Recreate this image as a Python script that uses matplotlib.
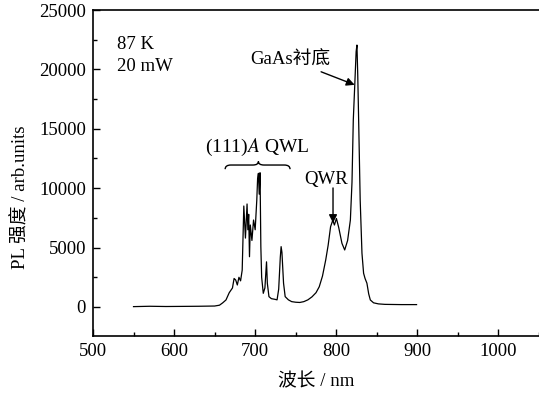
import numpy as np
import matplotlib.pyplot as plt
from matplotlib.path import Path
from matplotlib.patches import PathPatch
from matplotlib.ticker import MultipleLocator

plt.rcParams['font.family'] = ['Liberation Serif', 'Noto Sans CJK SC']
plt.rcParams['font.size'] = 13.5

# PL 光谱
wavelength = [550, 570, 590, 610, 630, 650, 656, 660, 664, 668, 672, 674, 676, 678, 680,
              682, 684, 686, 688, 690, 691, 692, 693, 694, 696, 698, 700, 702, 703,
              704, 705, 706, 707, 708, 710, 712, 714, 715, 717, 720, 724, 727, 729,
              731, 732, 733, 735, 737, 741, 745, 750, 755, 760, 765, 770, 775, 779,
              783, 787, 790, 793, 795.7, 797.7, 800.2, 803, 807, 810.4, 814, 817.4,
              819.4, 821, 823, 824.5, 825.5, 826.5, 827.6, 829.5, 831.7, 833.7, 835.5,
              837.8, 840, 842, 846, 852, 860, 870, 880, 890, 899]
intensity = [30, 60, 40, 50, 60, 80, 150, 350, 590, 1200, 1600, 2400, 2270, 1850, 2500,
             2200, 3100, 8500, 5800, 8670, 6500, 7800, 4230, 6900, 5600, 7320, 6500, 9000, 10800,
             11250, 9500, 11300, 5080, 2500, 1150, 1600, 3800, 2000, 870, 700, 650, 600, 1500,
             4200, 5080, 4600, 2000, 870, 600, 450, 400, 380, 450, 600, 850, 1200, 1700,
             2600, 3960, 5200, 6760, 7300, 6900, 7450, 6700, 5360, 4800, 5600, 7320,
             10500, 15740, 19000, 21500, 22050, 19500, 15740, 9000, 4520, 2840, 2400,
             2000, 1100, 590, 350, 260, 220, 210, 200, 200, 200]

fig = plt.figure(figsize=(5.39, 3.94), dpi=100)
ax = fig.add_axes([0.1725, 0.147, 0.8275, 0.8276])

ax.plot(wavelength, intensity, color='black', lw=0.9)

ax.set_xlim(500, 1050)
ax.set_ylim(-2450, 25000)
ax.xaxis.set_major_locator(MultipleLocator(100))
ax.xaxis.set_minor_locator(MultipleLocator(50))
ax.yaxis.set_major_locator(MultipleLocator(5000))
ax.yaxis.set_minor_locator(MultipleLocator(2500))
ax.tick_params(which='both', direction='in', top=False, right=False, width=1.0)
ax.tick_params(which='major', length=5, labelsize=13.5, pad=5)
ax.tick_params(which='minor', length=3)
ax.spines['right'].set_visible(False)
for s in ['left', 'bottom', 'top']:
    ax.spines[s].set_linewidth(1.2)

ax.set_xlabel('波长 / nm', fontsize=13.5, labelpad=9)
ax.set_ylabel('PL 强度 / arb.units', fontsize=13.5)
ax.yaxis.set_label_coords(-0.143, 0.425)

ax.text(0.054, 0.893, '87 K', transform=ax.transAxes, va='center')
ax.text(0.054, 0.826, '20 mW', transform=ax.transAxes, va='center')

ax.annotate('GaAs衬底', xy=(822.7, 18700), xytext=(793, 20800),
            ha='right', va='center',
            arrowprops=dict(arrowstyle='-|>', color='black', lw=1.0,
                            mutation_scale=12, shrinkA=1, shrinkB=0))
ax.annotate('', xy=(796, 7070), xytext=(796, 10020),
            arrowprops=dict(arrowstyle='-|>', color='black', lw=1.0,
                            mutation_scale=12, shrinkA=0, shrinkB=0))
ax.text(787.7, 10760, 'QWR', ha='center', va='center')
ax.text(703, 13450, '(111)$\\mathit{A}$ QWL', ha='center', va='center',
        fontsize=14, math_fontfamily='stix')

# 花括号
x0, x1, xm = 663, 743, 704
yb, ya, yt = 11600, 11950, 12250
verts = [(x0, yb),
         (x0, ya), (x0 + 7, ya),
         (xm - 7, ya),
         (xm, ya), (xm, yt),
         (xm, ya), (xm + 7, ya),
         (x1 - 7, ya),
         (x1, ya), (x1, yb)]
codes = [Path.MOVETO,
         Path.CURVE3, Path.CURVE3,
         Path.LINETO,
         Path.CURVE3, Path.CURVE3,
         Path.CURVE3, Path.CURVE3,
         Path.LINETO,
         Path.CURVE3, Path.CURVE3]
ax.add_patch(PathPatch(Path(verts, codes), fill=False, lw=1.0, color='black'))

fig.savefig('out.png', dpi=100)
